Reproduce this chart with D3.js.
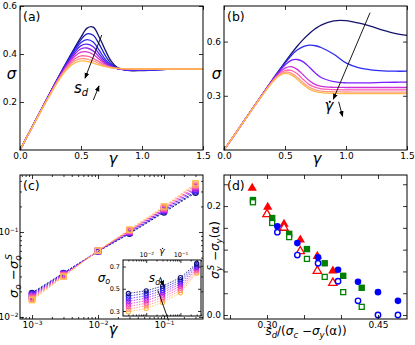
<!DOCTYPE html>
<html>
<head>
<meta charset="utf-8">
<script src="https://cdn.jsdelivr.net/npm/d3@7"></script>
<style>
body { margin: 0; background: #fff; }
svg text { font-family: "DejaVu Sans", sans-serif; }
</style>
</head>
<body>
<script>
// ---- panel (a): stress-strain for several s_d ----
const gammaA = [0, 0.1, 0.2, 0.3, 0.35, 0.4, 0.45, 0.5, 0.55, 0.6, 0.65, 0.7, 0.75, 0.8, 0.9, 1.0, 1.2, 1.5];
const sigmaA = [
  [0, 0.097, 0.194, 0.290, 0.337, 0.383, 0.428, 0.470, 0.508, 0.512, 0.470, 0.415, 0.368, 0.343, 0.331, 0.331, 0.336, 0.3375],
  [0, 0.097, 0.194, 0.289, 0.335, 0.380, 0.422, 0.460, 0.484, 0.478, 0.440, 0.393, 0.358, 0.340, 0.332, 0.332, 0.336, 0.3375],
  [0, 0.097, 0.193, 0.288, 0.333, 0.376, 0.416, 0.448, 0.460, 0.450, 0.415, 0.377, 0.352, 0.339, 0.333, 0.333, 0.336, 0.3375],
  [0, 0.097, 0.193, 0.287, 0.331, 0.372, 0.408, 0.435, 0.441, 0.430, 0.400, 0.368, 0.348, 0.338, 0.334, 0.334, 0.336, 0.3375],
  [0, 0.096, 0.192, 0.285, 0.328, 0.367, 0.400, 0.422, 0.425, 0.413, 0.388, 0.362, 0.346, 0.339, 0.335, 0.335, 0.337, 0.3375],
  [0, 0.096, 0.191, 0.283, 0.325, 0.362, 0.391, 0.408, 0.409, 0.398, 0.378, 0.357, 0.345, 0.339, 0.336, 0.336, 0.337, 0.3375],
  [0, 0.096, 0.190, 0.281, 0.321, 0.355, 0.380, 0.392, 0.391, 0.382, 0.367, 0.352, 0.344, 0.340, 0.337, 0.337, 0.3375, 0.3375],
  [0, 0.095, 0.189, 0.279, 0.318, 0.350, 0.372, 0.381, 0.379, 0.371, 0.360, 0.350, 0.343, 0.340, 0.338, 0.337, 0.3375, 0.3375],
  [0, 0.095, 0.188, 0.276, 0.314, 0.344, 0.363, 0.371, 0.369, 0.362, 0.354, 0.347, 0.342, 0.340, 0.338, 0.3375, 0.3375, 0.3375]
];
const colorsA = ["#15156e", "#1a1ac8", "#2c2cf2", "#5a20fa", "#9a24ea", "#d834cc", "#ff64a2", "#ff9682", "#ffba4c"];

// ---- panel (b): stress-strain for several shear rates ----
const gammaB = [0, 0.1, 0.2, 0.3, 0.4, 0.45, 0.5, 0.55, 0.6, 0.65, 0.7, 0.75, 0.8, 0.9, 1.0, 1.1, 1.2, 1.3, 1.4, 1.5];
const sigmaB = [
  [0, 0.098, 0.196, 0.294, 0.392, 0.440, 0.487, 0.532, 0.574, 0.612, 0.645, 0.672, 0.693, 0.715, 0.716, 0.703, 0.685, 0.664, 0.646, 0.634],
  [0, 0.098, 0.196, 0.294, 0.390, 0.436, 0.480, 0.522, 0.553, 0.572, 0.580, 0.577, 0.566, 0.530, 0.482, 0.456, 0.444, 0.438, 0.436, 0.436],
  [0, 0.098, 0.196, 0.294, 0.389, 0.432, 0.470, 0.496, 0.501, 0.488, 0.458, 0.425, 0.400, 0.379, 0.372, 0.371, 0.372, 0.374, 0.375, 0.376],
  [0, 0.098, 0.196, 0.293, 0.386, 0.425, 0.453, 0.461, 0.446, 0.415, 0.383, 0.362, 0.352, 0.347, 0.346, 0.346, 0.346, 0.346, 0.346, 0.346],
  [0, 0.098, 0.196, 0.292, 0.383, 0.418, 0.440, 0.441, 0.422, 0.390, 0.362, 0.346, 0.338, 0.334, 0.333, 0.333, 0.333, 0.333, 0.333, 0.333],
  [0, 0.098, 0.195, 0.291, 0.380, 0.414, 0.431, 0.426, 0.403, 0.372, 0.347, 0.333, 0.326, 0.322, 0.321, 0.320, 0.320, 0.320, 0.320, 0.320],
  [0, 0.098, 0.195, 0.290, 0.378, 0.410, 0.424, 0.416, 0.392, 0.361, 0.337, 0.323, 0.317, 0.313, 0.312, 0.312, 0.312, 0.312, 0.312, 0.312]
];
const colorsB = ["#15156e", "#2b2bf0", "#7a20ff", "#cf2fd8", "#ff5cb2", "#ff9a86", "#ffb84a"];

// ---- panel (c): sigma_o - sigma_o^S vs rate, inset sigma_o vs rate ----
const rateC = [1e-3, 3e-3, 1e-2, 3e-2, 1e-1, 3e-1];
const excessC = [
  [0.0192, 0.0330, 0.0590, 0.0955, 0.170, 0.290],
  [0.0188, 0.0327, 0.0592, 0.0970, 0.174, 0.300],
  [0.0183, 0.0322, 0.0594, 0.0985, 0.178, 0.312],
  [0.0178, 0.0318, 0.0596, 0.1000, 0.182, 0.324],
  [0.0173, 0.0313, 0.0598, 0.1015, 0.186, 0.336],
  [0.0168, 0.0308, 0.0600, 0.1030, 0.190, 0.348],
  [0.0163, 0.0303, 0.0602, 0.1050, 0.195, 0.360],
  [0.0158, 0.0298, 0.0604, 0.1070, 0.200, 0.374]
];
const rateInset = [3e-3, 1e-2, 3e-2, 1e-1, 3e-1];
const sigmaInset = [
  [0.458, 0.482, 0.524, 0.600, 0.729],
  [0.434, 0.460, 0.504, 0.581, 0.717],
  [0.410, 0.438, 0.484, 0.562, 0.705],
  [0.387, 0.416, 0.464, 0.544, 0.692],
  [0.363, 0.393, 0.443, 0.525, 0.679],
  [0.340, 0.370, 0.421, 0.505, 0.666],
  [0.316, 0.347, 0.399, 0.485, 0.652],
  [0.293, 0.323, 0.377, 0.464, 0.639]
];
const colorsC = ["#15156e", "#2222d8", "#5a22ff", "#9a24ec", "#d832d0", "#ff5aa8", "#ff9080", "#ffbc48"];

// ---- panel (d): scatter ----
const redX = [0.280, 0.301, 0.323, 0.345, 0.368, 0.389];
const redFilledY = [0.233, 0.198, 0.167, 0.138, 0.108, 0.081];
const redOpenX = [0.300, 0.323, 0.345, 0.368, 0.389];
const redOpenY = [0.185, 0.160, 0.117, 0.081, 0.059];
const greenX = [0.281, 0.307, 0.330, 0.354, 0.378, 0.403, 0.428];
const greenFilledY = [0.211, 0.178, 0.149, 0.121, 0.095, 0.072, 0.050];
const greenOpenY = [0.207, 0.169, 0.143, 0.103, 0.070, 0.042, 0.015];
const blueX = [0.314, 0.341, 0.369, 0.396, 0.423, 0.450, 0.477];
const blueFilledY = [0.163, 0.132, 0.106, 0.083, 0.061, 0.042, 0.026];
const blueOpenY = [0.152, 0.110, 0.095, 0.062, 0.026, 0.000, 0.000];

const svg = d3.select("body").append("svg").attr("width", 415).attr("height", 345);

svg.append("defs").append("marker")
    .attr("id", "arrow")
    .attr("viewBox", "0 0 10 10")
    .attr("refX", 9).attr("refY", 5)
    .attr("markerWidth", 6).attr("markerHeight", 6)
    .attr("markerUnits", "userSpaceOnUse")
    .attr("orient", "auto")
    .append("path").attr("d", "M0,1 L10,5 L0,9 z").attr("fill", "#000");

const mathFont = "'Liberation Serif', 'DejaVu Serif', serif";

function sideAxis(g, axis, tr, vals, fmt, len, fs, pad) {
    const a = g.append("g")
        .attr("transform", tr)
        .call(axis.tickValues(vals).tickSize(-len).tickPadding(pad)
            .tickFormat(typeof fmt === "function" ? fmt : () => ""));
    a.select(".domain").remove();
    a.selectAll(".tick line").attr("stroke", "#000").attr("stroke-width", 0.8);
    a.selectAll(".tick text").attr("fill", "#000").attr("font-size", fs);
    if (fmt === "sup") {
        a.selectAll(".tick text").each(function(d) {
            const e = Math.round(Math.log10(d));
            const t = d3.select(this);
            t.append("tspan").text("10");
            t.append("tspan").attr("dy", "-0.5em").attr("font-size", "0.65em").text("\u2212" + Math.abs(e));
        });
    }
    return a;
}

// o: {xMajor, yMajor, xMinor, yMinor, bottom, top, left, right (formats), len, fs, pad}
function drawFrame(g, box, x, y, o) {
    const len = o.len || 4, fs = o.fs || 9;
    const sides = [
        [() => d3.axisBottom(x), `translate(0,${box.b})`, "x", o.bottom],
        [() => d3.axisTop(x), `translate(0,${box.t})`, "x", o.top],
        [() => d3.axisLeft(y), `translate(${box.l},0)`, "y", o.left],
        [() => d3.axisRight(y), `translate(${box.r},0)`, "y", o.right]
    ];
    sides.forEach(([mk, tr, k, fmt]) => {
        const minor = k === "x" ? o.xMinor : o.yMinor;
        const pad = k === "y" && o.yPad != null ? o.yPad : 3;
        if (minor) sideAxis(g, mk(), tr, minor, null, len / 2, fs, pad);
        sideAxis(g, mk(), tr, k === "x" ? o.xMajor : o.yMajor, fmt, len, fs, pad);
    });
    g.append("rect")
        .attr("x", box.l).attr("y", box.t)
        .attr("width", box.r - box.l).attr("height", box.b - box.t)
        .attr("fill", "none").attr("stroke", "#000").attr("stroke-width", 1);
}

function panelLabel(txt, x, y) {
    svg.append("text").attr("x", x).attr("y", y).attr("font-size", 12.5).text(txt);
}

function mathText(x, y, size, parts, rotate) {
    const t = svg.append("text")
        .attr("transform", `translate(${x},${y})` + (rotate ? " rotate(-90)" : ""))
        .attr("text-anchor", "middle")
        .attr("font-family", mathFont)
        .attr("font-style", "italic")
        .attr("font-size", size);
    parts.forEach(p => {
        const s = t.append("tspan").text(p.t);
        if (p.dy) s.attr("dy", p.dy);
        if (p.dx) s.attr("dx", p.dx);
        if (p.fs) s.attr("font-size", p.fs);
        if (p.up) s.attr("font-style", "normal");
    });
    return t;
}

// gamma with a dot on top (shear rate)
function gammaDot(x, y, size) {
    mathText(x, y, size, [{t: "γ"}]);
    svg.append("circle")
        .attr("cx", x + 0.06 * size).attr("cy", y - 0.62 * size)
        .attr("r", Math.max(0.6, 0.07 * size)).attr("fill", "#000");
}

function arrowLine(x1, y1, x2, y2, head) {
    const l = svg.append("line")
        .attr("x1", x1).attr("y1", y1).attr("x2", x2).attr("y2", y2)
        .attr("stroke", "#000").attr("stroke-width", 0.9);
    if (head) l.attr("marker-end", "url(#arrow)");
}

const fmt1 = d3.format(".1f");

// ================= panel (a) =================
const boxA = {l: 20, r: 203, t: 6, b: 150};
const xA = d3.scaleLinear().domain([0, 1.5]).range([boxA.l, boxA.r]);
const yA = d3.scaleLinear().domain([0, 0.6]).range([boxA.b, boxA.t]);
const gA = svg.append("g");
const lineA = d3.line().x((d, i) => xA(gammaA[i])).y(d => yA(d)).curve(d3.curveCatmullRom.alpha(0.5));
gA.selectAll("path.curve").data(sigmaA).enter().append("path")
    .attr("class", "curve")
    .attr("d", d => lineA(d))
    .attr("fill", "none")
    .attr("stroke", (d, i) => colorsA[i])
    .attr("stroke-width", 1.3);
drawFrame(gA, boxA, xA, yA, {
    xMajor: [0, 0.5, 1.0, 1.5], yMajor: [0.2, 0.4, 0.6],
    bottom: fmt1, left: fmt1
});
panelLabel("(a)", 23, 21);
mathText(11.5, 79, 15, [{t: "σ"}]);
mathText(113, 164, 15, [{t: "γ"}]);
arrowLine(xA(0.67), yA(0.479), xA(0.533), yA(0.299), true);
arrowLine(xA(0.601), yA(0.208), xA(0.648), yA(0.267), true);
mathText(xA(0.5), yA(0.237), 15, [{t: "s"}, {t: "d", dy: 3, fs: 10}]);

// ================= panel (b) =================
const boxB = {l: 224, r: 407, t: 6, b: 150};
const xB = d3.scaleLinear().domain([0, 1.5]).range([boxB.l, boxB.r]);
const yB = d3.scaleLinear().domain([0, 0.797]).range([boxB.b, boxB.t]);
const gB = svg.append("g");
const lineB = d3.line().x((d, i) => xB(gammaB[i])).y(d => yB(d)).curve(d3.curveCatmullRom.alpha(0.5));
gB.selectAll("path.curve").data(sigmaB).enter().append("path")
    .attr("class", "curve")
    .attr("d", d => lineB(d))
    .attr("fill", "none")
    .attr("stroke", (d, i) => colorsB[i])
    .attr("stroke-width", 1.3);
drawFrame(gB, boxB, xB, yB, {
    xMajor: [0, 0.5, 1.0, 1.5], yMajor: [0.3, 0.6],
    bottom: fmt1, left: fmt1
});
panelLabel("(b)", 227, 21);
mathText(216.5, 79, 15, [{t: "σ"}]);
mathText(317, 164, 15, [{t: "γ"}]);
arrowLine(xB(1.197), yB(0.76), xB(0.896), yB(0.281), true);
arrowLine(xB(0.94), yB(0.267), xB(0.972), yB(0.186), true);
gammaDot(xB(0.86), yB(0.215), 15);

// ================= panel (c) =================
const boxC = {l: 20, r: 203, t: 175, b: 319};
const xC = d3.scaleLog().domain([10 ** -3.182, 10 ** -0.409]).range([boxC.l, boxC.r]);
const yC = d3.scaleLog().domain([10 ** -2.024, 10 ** -0.329]).range([boxC.b, boxC.t]);
const gC = svg.append("g");
const lineC = d3.line().x((d, i) => xC(rateC[i])).y(d => yC(d));
excessC.forEach((ser, s) => {
    gC.append("path")
        .attr("d", lineC(ser))
        .attr("fill", "none")
        .attr("stroke", colorsC[s])
        .attr("stroke-width", 1)
        .attr("stroke-dasharray", "2,1.5");
    ser.forEach((v, i) => {
        if (s < 2) {
            gC.append("circle").attr("cx", xC(rateC[i])).attr("cy", yC(v)).attr("r", 2.6)
                .attr("fill", "none").attr("stroke", colorsC[s]).attr("stroke-width", 1.3);
        } else {
            gC.append("rect").attr("x", xC(rateC[i]) - 2.6).attr("y", yC(v) - 2.6)
                .attr("width", 5.2).attr("height", 5.2)
                .attr("fill", "none").attr("stroke", colorsC[s]).attr("stroke-width", 1.3);
        }
    });
});
const minorLog = (lo, hi) => {
    const out = [];
    for (let e = -4; e <= 0; e++) for (let m = 2; m <= 9; m++) {
        const v = m * 10 ** e;
        if (v > lo && v < hi) out.push(v);
    }
    return out;
};
drawFrame(gC, boxC, xC, yC, {
    xMajor: [1e-3, 1e-2, 1e-1], yMajor: [1e-2, 1e-1],
    xMinor: minorLog(xC.domain()[0], xC.domain()[1]),
    yMinor: minorLog(yC.domain()[0], yC.domain()[1]),
    bottom: "sup", left: "sup", yPad: 1.5
});
panelLabel("(c)", 23, 190);
mathText(17.5, 276, 13, [
    {t: "σ"}, {t: "o", dy: 3, fs: 9}, {t: " \u2212", dy: -3, up: true}, {t: "σ"},
    {t: "o", dy: 3, fs: 9}, {t: "S", dx: -4.5, dy: -8.5, fs: 9}
], true);
gammaDot(113, 335, 15);

// inset
const boxI = {l: 123, r: 201, t: 260, b: 316};
const xI = d3.scaleLog().domain([10 ** -2.68, 10 ** -0.397]).range([boxI.l, boxI.r]);
const yI = d3.scaleLinear().domain([0.255, 0.759]).range([boxI.b, boxI.t]);
const gI = svg.append("g");
gI.append("rect")
    .attr("x", boxI.l).attr("y", boxI.t)
    .attr("width", boxI.r - boxI.l).attr("height", boxI.b - boxI.t)
    .attr("fill", "#fff");
const lineI = d3.line().x((d, i) => xI(rateInset[i])).y(d => yI(d));
sigmaInset.slice().reverse().forEach((ser, r) => {
    const s = sigmaInset.length - 1 - r;
    gI.append("path")
        .attr("d", lineI(ser))
        .attr("fill", "none")
        .attr("stroke", colorsC[s])
        .attr("stroke-width", 0.8)
        .attr("stroke-dasharray", "1.5,1.2");
    ser.forEach((v, i) => {
        gI.append("circle").attr("cx", xI(rateInset[i])).attr("cy", yI(v)).attr("r", 2.1)
            .attr("fill", "none").attr("stroke", colorsC[s]).attr("stroke-width", 1.1);
    });
});
drawFrame(gI, boxI, xI, yI, {
    xMajor: [1e-2, 1e-1], yMajor: [0.3, 0.5, 0.7],
    xMinor: minorLog(xI.domain()[0], xI.domain()[1]),
    top: "sup", left: fmt1, len: 3, fs: 6.5
});
gammaDot(162, 254, 9);
mathText(104, 281.5, 12, [{t: "σ"}, {t: "o", dy: 2.5, fs: 8}]);
arrowLine(xI(0.022), yI(0.485), xI(0.045), yI(0.215), false);
arrowLine(xI(0.026), yI(0.605), xI(0.032), yI(0.525), true);
mathText(xI(0.0175), yI(0.56), 12, [{t: "s"}, {t: "d", dy: 2.5, fs: 8}]);

// ================= panel (d) =================
const boxD = {l: 224, r: 407, t: 175, b: 319};
const xD = d3.scaleLinear().domain([0.2419, 0.4892]).range([boxD.l, boxD.r]);
const yD = d3.scaleLinear().domain([-0.0073, 0.257]).range([boxD.b, boxD.t]);
const gD = svg.append("g");
const tri = d3.symbol().type(d3.symbolTriangle);

redX.forEach((xv, i) => {
    gD.append("path").attr("d", tri.size(38)())
        .attr("transform", `translate(${xD(xv)},${yD(redFilledY[i])})`)
        .attr("fill", "#ff0000");
});
redOpenX.forEach((xv, i) => {
    gD.append("path").attr("d", tri.size(30)())
        .attr("transform", `translate(${xD(xv)},${yD(redOpenY[i])})`)
        .attr("fill", "#fff").attr("stroke", "#ff0000").attr("stroke-width", 1.3);
});
greenX.forEach((xv, i) => {
    gD.append("rect").attr("x", xD(xv) - 3.2).attr("y", yD(greenFilledY[i]) - 3.2)
        .attr("width", 6.4).attr("height", 6.4).attr("fill", "#008000");
});
greenX.forEach((xv, i) => {
    gD.append("rect").attr("x", xD(xv) - 2.5).attr("y", yD(greenOpenY[i]) - 2.5)
        .attr("width", 5).attr("height", 5)
        .attr("fill", "#fff").attr("stroke", "#008000").attr("stroke-width", 1.3);
});
blueX.forEach((xv, i) => {
    gD.append("circle").attr("cx", xD(xv)).attr("cy", yD(blueFilledY[i])).attr("r", 3.3)
        .attr("fill", "#0000ff");
});
blueX.forEach((xv, i) => {
    gD.append("circle").attr("cx", xD(xv)).attr("cy", yD(blueOpenY[i])).attr("r", 2.7)
        .attr("fill", "#fff").attr("stroke", "#0000ff").attr("stroke-width", 1.4);
});
drawFrame(gD, boxD, xD, yD, {
    xMajor: [0.25, 0.30, 0.35, 0.40, 0.45], yMajor: [0, 0.04, 0.08, 0.12, 0.16, 0.2, 0.24],
    bottom: d => (Math.abs(d - 0.30) < 1e-9 || Math.abs(d - 0.45) < 1e-9) ? d3.format(".2f")(d) : "",
    left: d => (Math.abs(d) < 1e-9 || Math.abs(d - 0.2) < 1e-9) ? fmt1(d) : ""
});
panelLabel("(d)", 227, 190);
mathText(218.5, 250, 12, [
    {t: "σ"}, {t: "y", dy: 3, fs: 8.5}, {t: "S", dx: -4, dy: -8, fs: 8.5},
    {t: " \u2212", dy: 5, up: true}, {t: "σ"}, {t: "y", dy: 3, fs: 8.5}, {t: "(α)", dy: -3, up: true}
], true);
mathText(306, 334.5, 12, [
    {t: "s"}, {t: "d", dy: 3, fs: 8.5}, {t: "/(", dy: -3, up: true}, {t: "σ"}, {t: "c", dy: 3, fs: 8.5},
    {t: " \u2212", dy: -3, up: true}, {t: "σ"}, {t: "y", dy: 3, fs: 8.5}, {t: "(α))", dy: -3, up: true}
]);
</script>
</body>
</html>
